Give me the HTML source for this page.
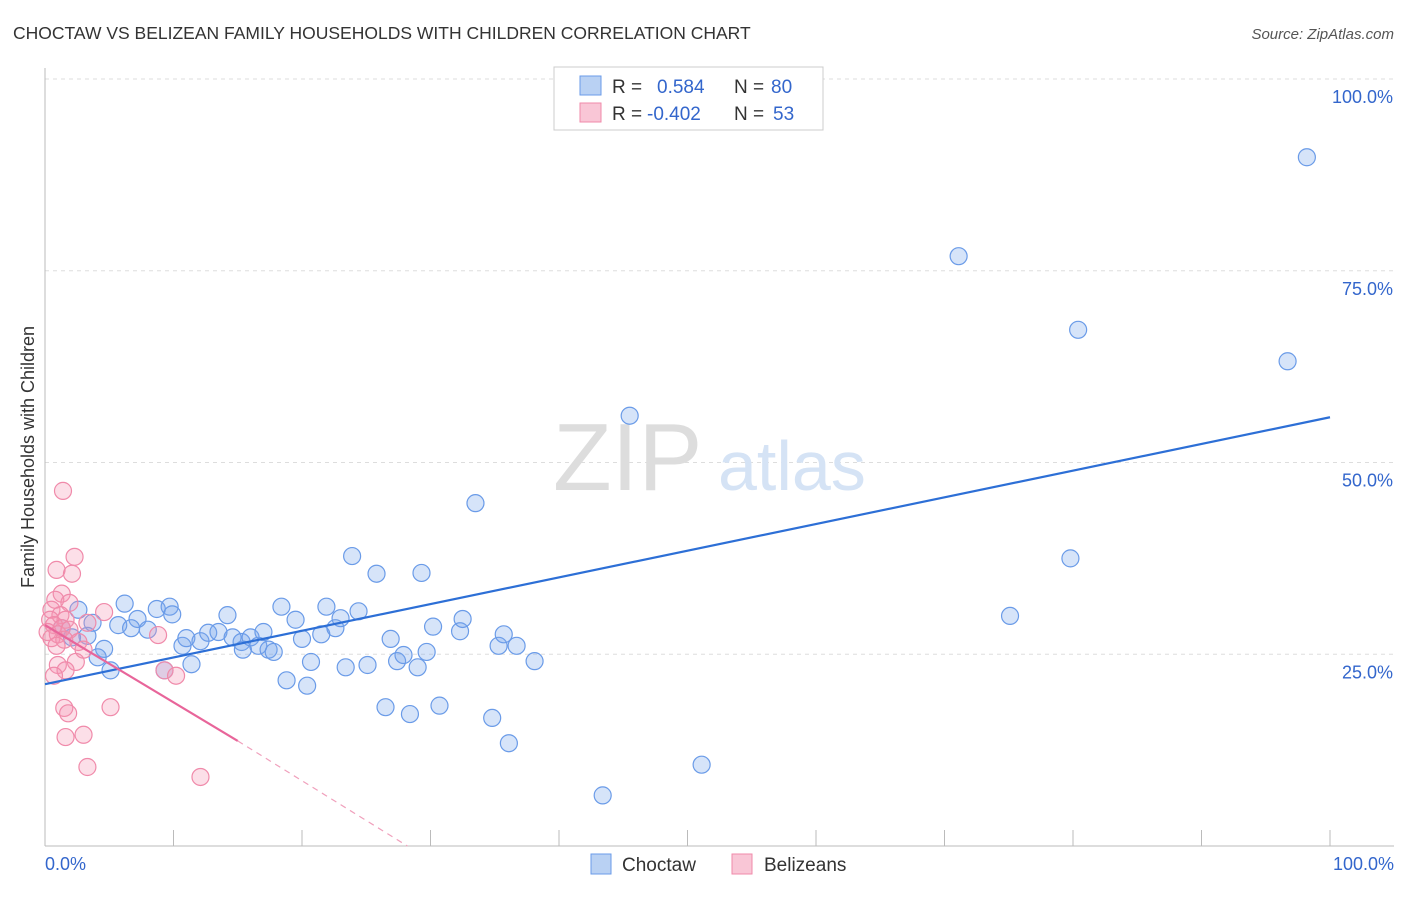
<!DOCTYPE html>
<html><head><meta charset="utf-8"><style>
body{margin:0;background:#fff;font-family:"Liberation Sans",sans-serif;}
svg text{font-family:"Liberation Sans",sans-serif;}
</style></head><body>
<svg id="chart" width="1406" height="892">
<text x="13" y="39" font-size="17.5" fill="#333">CHOCTAW VS BELIZEAN FAMILY HOUSEHOLDS WITH CHILDREN CORRELATION CHART</text>
<text x="1394" y="39" font-size="15" fill="#555" font-style="italic" text-anchor="end">Source: ZipAtlas.com</text>
<text x="34" y="457" font-size="18" fill="#333" transform="rotate(-90 34 457)" text-anchor="middle">Family Households with Children</text>
<g id="grid"></g>
<g><text x="553" y="490" font-size="96" fill="#ddd" font-family="Liberation Serif,serif">ZIP</text><text x="718" y="490" font-size="70" fill="#d5e3f5">atlas</text></g>
<g id="marks"></g>
<g>
<rect x="554" y="67" width="269" height="63" fill="#fff" stroke="#ccc"/>
<rect x="580" y="76" width="21" height="19" fill="#b9d1f3" stroke="#6a9be8"/>
<rect x="580" y="103" width="21" height="19" fill="#f9c6d6" stroke="#f08aaa"/>
<text x="612" y="93" font-size="19" fill="#333">R = </text><text x="657" y="93" font-size="19" fill="#3366cc">0.584</text>
<text x="734" y="93" font-size="19" fill="#333">N = </text><text x="771" y="93" font-size="19" fill="#3366cc">80</text>
<text x="612" y="120" font-size="19" fill="#333">R = </text><text x="647" y="120" font-size="19" fill="#3366cc">-0.402</text>
<text x="734" y="120" font-size="19" fill="#333">N = </text><text x="773" y="120" font-size="19" fill="#3366cc">53</text>
</g>
<g>
<rect x="591" y="854" width="20" height="20" fill="#b9d1f3" stroke="#6a9be8"/><text x="622" y="871" font-size="19" fill="#333">Choctaw</text>
<rect x="732" y="854" width="20" height="20" fill="#f9c6d6" stroke="#f08aaa"/><text x="764" y="871" font-size="19" fill="#333">Belizeans</text>
</g>
<text x="45" y="870" font-size="18" fill="#3366cc">0.0%</text>
<text x="1394" y="870" font-size="18" fill="#3366cc" text-anchor="end">100.0%</text>
</svg>
<script>
const yTicks=[25,50,75,100];
const yTickLabels=["25.0%","50.0%","75.0%","100.0%"];
const blueX=[98.2,71.1,80.4,96.7,45.5,33.5,23.9,25.8,29.3,79.8,75.1,6.2,2.6,8.7,9.7,9.9,7.2,5.7,6.7,8.0,3.7,3.3,4.6,4.1,5.1,9.3,11.4,10.7,11.0,12.1,12.7,13.5,14.2,14.6,15.3,15.4,16.0,16.6,17.0,17.4,17.8,18.4,18.8,19.5,20.0,20.4,20.7,21.5,21.9,22.6,23.0,23.4,24.4,25.1,26.5,26.9,27.4,27.9,28.4,29.0,29.7,30.2,30.7,32.3,32.5,34.8,35.3,35.7,36.1,36.7,38.1,43.4,51.1,1.3,2.1];
const blueY=[89.8,76.9,67.3,63.2,56.1,44.7,37.8,35.5,35.6,37.5,30.0,31.6,30.8,30.9,31.2,30.2,29.6,28.8,28.4,28.2,29.1,27.4,25.7,24.6,22.9,22.9,23.7,26.1,27.1,26.7,27.8,27.9,30.1,27.2,26.6,25.6,27.2,26.1,27.9,25.6,25.3,31.2,21.6,29.5,27.0,20.9,24.0,27.6,31.2,28.4,29.7,23.3,30.6,23.6,18.1,27.0,24.1,24.9,17.2,23.3,25.3,28.6,18.3,28.0,29.6,16.7,26.1,27.6,13.4,26.1,24.1,6.6,10.6,28.4,27.2];
const pinkX=[1.4,2.3,0.9,2.1,1.3,0.8,1.9,4.6,0.5,1.2,0.4,1.6,0.7,1.3,0.2,1.0,1.9,0.5,1.5,2.6,0.9,3.0,8.8,2.4,1.0,1.6,0.7,9.3,10.2,1.5,1.8,5.1,1.6,3.0,3.3,12.1,3.3];
const pinkY=[46.3,37.7,36.0,35.5,32.9,32.1,31.7,30.5,30.8,30.1,29.5,29.5,28.8,28.4,27.9,27.6,28.2,27.1,26.9,26.6,26.1,25.6,27.5,24.0,23.6,22.9,22.2,22.9,22.2,18.0,17.3,18.1,14.2,14.5,10.3,9.0,29.1];
const blueTrend=[[0,21.1],[100,55.9]];
const pinkTrend=[[0,28.8],[15,13.7],[28.2,0]];
const NS='http://www.w3.org/2000/svg';
const sx=v=>45+v*12.85, sy=v=>846-v*7.67;
function mk(t,a,p){const e=document.createElementNS(NS,t);for(const k in a)e.setAttribute(k,a[k]);p.appendChild(e);return e;}
const grid=document.getElementById('grid'),marks=document.getElementById('marks');
yTicks.forEach((t,i)=>{
 const l=mk('line',{x1:45,x2:1394,y1:sy(t),y2:sy(t),stroke:'#ddd','stroke-dasharray':'4,4'},grid);
 
 
 const tx=mk('text',{x:1393,y:sy(t)+24,'font-size':18,fill:'#3366cc','text-anchor':'end'},grid);
 tx.textContent=yTickLabels[i];
 
 
});
const ax=mk('line',{x1:45,x2:1394,y1:846,y2:846,stroke:'#bbb'},grid);


const ay=mk('line',{x1:45,x2:45,y1:68,y2:846,stroke:'#bbb'},grid);


for(let i=1;i<=10;i++){const t=mk('line',{x1:sx(i*10),x2:sx(i*10),y1:830,y2:846,stroke:'#bbb'},grid);
 
 }
blueX.forEach((x,i)=>{const c=mk('circle',{cx:sx(x),cy:sy(blueY[i]),r:8.5,fill:'rgba(120,165,235,0.3)',stroke:'#6a9be8','stroke-width':1.2},marks);
 
 });
pinkX.forEach((x,i)=>{const c=mk('circle',{cx:sx(x),cy:sy(pinkY[i]),r:8.5,fill:'rgba(245,150,180,0.3)',stroke:'#f08aaa','stroke-width':1.2},marks);
 
 });
const bl=mk('line',{x1:sx(blueTrend[0][0]),y1:sy(blueTrend[0][1]),x2:sx(blueTrend[1][0]),y2:sy(blueTrend[1][1]),stroke:'#2d6fd6','stroke-width':2.2},marks);


const pl=mk('line',{x1:sx(pinkTrend[0][0]),y1:sy(pinkTrend[0][1]),x2:sx(pinkTrend[1][0]),y2:sy(pinkTrend[1][1]),stroke:'#e8659a','stroke-width':2.2},marks);


const pd=mk('line',{x1:sx(pinkTrend[1][0]),y1:sy(pinkTrend[1][1]),x2:sx(pinkTrend[2][0]),y2:sy(pinkTrend[2][1]),stroke:'#f0a0bc','stroke-width':1.2,'stroke-dasharray':'6,5'},marks);


</script>
</body></html>
